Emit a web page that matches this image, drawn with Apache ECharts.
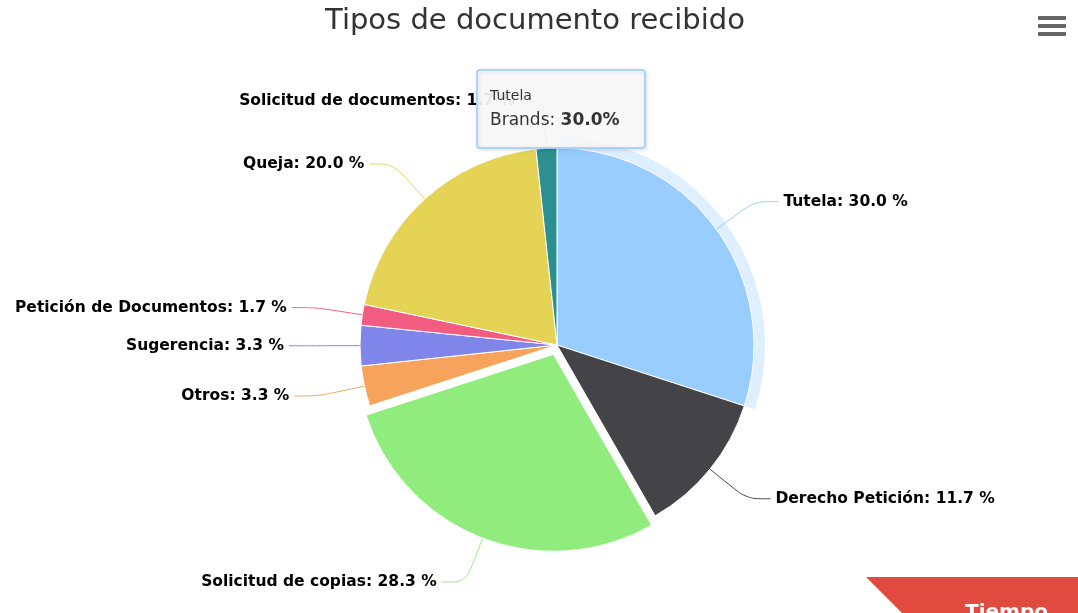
<!DOCTYPE html>
<html>
<head>
<meta charset="utf-8">
<script src="https://cdn.jsdelivr.net/npm/echarts@6/dist/echarts.min.js"></script>
<style>
html,body{margin:0;padding:0;background:#fff;}
#chart{width:1078px;height:613px;}
</style>
</head>
<body>
<div id="chart"></div>
<script>
const titleText = 'Tipos de documento recibido';
const categories = ['Tutela', 'Derecho Petición', 'Solicitud de copias', 'Otros', 'Sugerencia', 'Petición de Documentos', 'Queja', 'Solicitud de documentos'];
const values = [30.0, 11.7, 28.3, 3.3, 3.3, 1.7, 20.0, 1.7];
const colors = ['#99ccff', '#434348', '#90ed7d', '#f7a35c', '#8085e9', '#f15c80', '#e4d354', '#2b908f'];
const slicedIndex = 2;
const hoverIndex = 0;
const tooltipSeriesName = 'Brands';

const chart = echarts.init(document.getElementById('chart'), null, {renderer: 'canvas'});

const pieData = categories.map((c, i) => ({
  name: c,
  value: values[i],
  selected: i === slicedIndex,
  itemStyle: {color: colors[i]},
  labelLine: {lineStyle: {color: colors[i]}}
}));

const haloData = categories.map((c, i) => ({
  name: c,
  value: values[i],
  itemStyle: {color: i === hoverIndex ? 'rgba(153,204,255,0.32)' : 'rgba(0,0,0,0)'}
}));

const tipX = 477, tipY = 70;

chart.setOption({
  animation: false,
  title: {
    text: titleText,
    left: 530, top: 2, textAlign: 'center',
    textStyle: {fontFamily: 'DejaVu Sans', fontSize: 29, fontWeight: 'normal', color: '#333'}
  },
  series: [
    {
      type: 'pie',
      silent: true,
      center: [557, 345],
      radius: [197, 208],
      startAngle: 90,
      label: {show: false},
      labelLine: {show: false},
      itemStyle: {borderWidth: 0},
      data: haloData,
      z: 1
    },
    {
      type: 'pie',
      center: [557, 345],
      radius: [0, 197],
      startAngle: 90,
      selectedMode: 'multiple',
      selectedOffset: 10,
      itemStyle: {borderColor: '#fff', borderWidth: 1},
      label: {
        show: true,
        formatter: p => p.name + ': ' + p.value.toFixed(1) + ' %',
        fontFamily: 'DejaVu Sans',
        fontSize: 15.5,
        fontWeight: 'bold',
        color: '#000',
        textBorderColor: '#fff',
        textBorderWidth: 2
      },
      labelLine: {show: true, length: 47, length2: 24, smooth: 0.3, lineStyle: {width: 1}},
      data: pieData,
      z: 2
    }
  ],
  graphic: [
    {type: 'rect', shape: {x: tipX, y: tipY, width: 168, height: 78, r: 3},
     style: {fill: 'rgba(250,250,250,0.92)', stroke: '#99ccff', lineWidth: 1.5,
             shadowBlur: 4, shadowColor: 'rgba(0,0,0,0.15)', shadowOffsetX: 1, shadowOffsetY: 1}, z: 100},
    {type: 'text', x: tipX + 13, y: tipY + 19, z: 101,
     style: {text: categories[hoverIndex], fontFamily: 'DejaVu Sans', fontSize: 14, fill: '#333'}},
    {type: 'text', x: tipX + 13, y: tipY + 42, z: 101,
     style: {text: '{a|' + tooltipSeriesName + ': }{b|' + values[hoverIndex].toFixed(1) + '%}',
             rich: {a: {fontFamily: 'DejaVu Sans', fontSize: 17, fill: '#333'},
                    b: {fontFamily: 'DejaVu Sans', fontSize: 17, fontWeight: 'bold', fill: '#333'}}}},
    {type: 'rect', shape: {x: 1038, y: 16, width: 28, height: 4, r: 1}, style: {fill: '#666'}},
    {type: 'rect', shape: {x: 1038, y: 24, width: 28, height: 4, r: 1}, style: {fill: '#666'}},
    {type: 'rect', shape: {x: 1038, y: 32, width: 28, height: 4, r: 1}, style: {fill: '#666'}},
    {type: 'polygon', shape: {points: [[866, 577], [1078, 577], [1078, 613], [902, 613]]},
     style: {fill: '#e04a3f'}},
    {type: 'text', x: 965, y: 603, style: {text: 'Tiempo', fontFamily: 'DejaVu Sans', fontSize: 20, fontWeight: 'bold', fill: '#fff'}}
  ]
});
</script>
</body>
</html>
